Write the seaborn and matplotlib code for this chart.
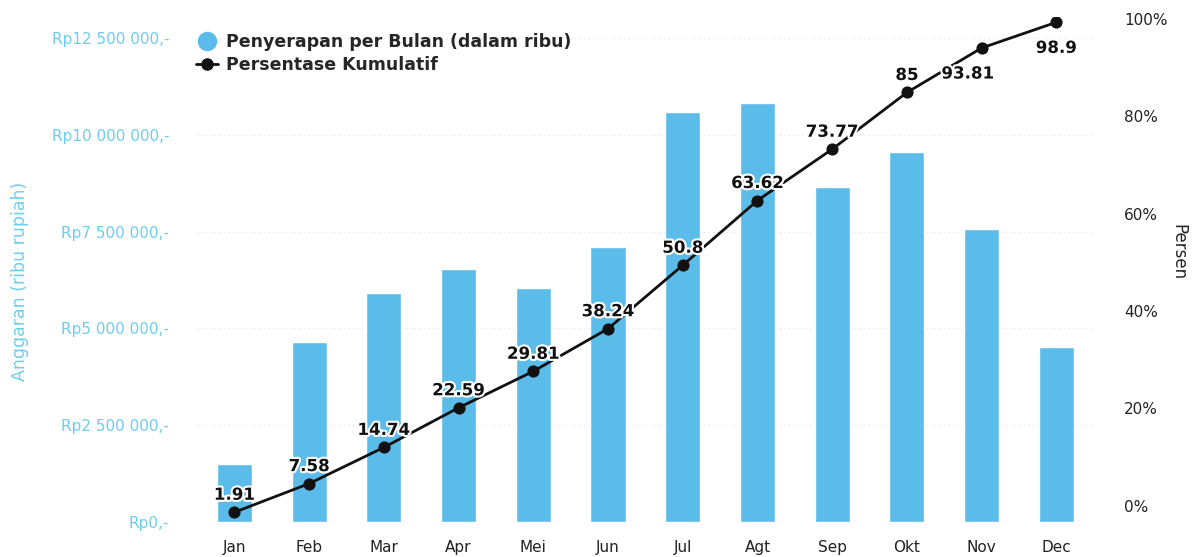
import seaborn as sns
import matplotlib.pyplot as plt
import matplotlib.patheffects as pe
import numpy as np
import pandas as pd
from matplotlib.lines import Line2D

bulan = ['Jan', 'Feb', 'Mar', 'Apr', 'Mei', 'Jun', 'Jul', 'Agt', 'Sep', 'Okt', 'Nov', 'Dec']
penyerapan = [1490000, 4650000, 5910000, 6530000, 6040000, 7100000,
              10600000, 10820000, 8640000, 9560000, 7560000, 4520000]
kumulatif = [1.91, 7.58, 14.74, 22.59, 29.81, 38.24, 50.8, 63.62, 73.77, 85, 93.81, 98.9]
label_bawah = ['Nov', 'Dec']

rp_ticks = [0, 2500000, 5000000, 7500000, 10000000, 12500000]
rp_labels = ['Rp0,-', 'Rp2 500 000,-', 'Rp5 000 000,-', 'Rp7 500 000,-',
             'Rp10 000 000,-', 'Rp12 500 000,-']
persen_labels = ['0%', '20%', '40%', '60%', '80%', '100%']

biru = '#5BBCEA'
biru_teks = '#6ECDEF'

sns.set_style('white')
plt.rcParams['font.family'] = ['DejaVu Sans']

df = pd.DataFrame({'bulan': bulan, 'penyerapan': penyerapan, 'kumulatif': kumulatif})

fig = plt.figure(figsize=(11.94, 5.57), dpi=100)
ax = fig.add_axes([0.165, 0.063, 0.751, 0.907])

sns.barplot(data=df, x='bulan', y='penyerapan', color=biru, width=0.47,
            saturation=1, ax=ax)
ax.set_ylim(0, 13050000)
ax.set_xlim(-0.5, 11.5)
ax.set_yticks(rp_ticks)
ax.set_yticklabels(rp_labels, color=biru_teks, fontsize=11)
ax.tick_params(axis='y', length=0, pad=20)
ax.tick_params(axis='x', length=0, pad=13, labelsize=11, labelcolor='#222222')
ax.yaxis.grid(True, color='#dddddd', linestyle=(0, (1, 3)), linewidth=0.8)
ax.set_axisbelow(True)
ax.set_xlabel('')
ax.set_ylabel('Anggaran (ribu rupiah)', color=biru_teks, fontsize=12.5)
ax.yaxis.set_label_coords(-0.187, 0.477)
for s in ax.spines.values():
    s.set_visible(False)

ax2 = ax.twinx()
x = np.arange(len(bulan))
sns.lineplot(x=x, y=kumulatif, color='#111111', linewidth=2, marker='o',
             markersize=8, markeredgecolor='#111111', ax=ax2)
ax2.set_ylim(0, 100)
# label persen di kanan sedikit bergeser dari skala garis
ax2.set_yticks(np.linspace(3.2, 99.6, 6))
ax2.set_yticklabels(persen_labels, fontsize=11, color='#222222')
ax2.tick_params(axis='y', length=0, pad=22)
ax2.set_ylabel('Persen', rotation=270, fontsize=12, color='#222222')
ax2.yaxis.set_label_coords(1.105, 0.535)
for s in ax2.spines.values():
    s.set_visible(False)

efek = [pe.withStroke(linewidth=3, foreground='white')]
for i, (b, v) in enumerate(zip(bulan, kumulatif)):
    if b in label_bawah:
        dx = -10 if b == 'Nov' else 0
        ax2.annotate(f'{v:g}', (i, v), xytext=(dx, -22), textcoords='offset points',
                     ha='center', fontsize=12, fontweight='bold', color='#111111',
                     path_effects=efek)
    else:
        ax2.annotate(f'{v:g}', (i, v), xytext=(0, 9), textcoords='offset points',
                     ha='center', fontsize=12, fontweight='bold', color='#111111',
                     path_effects=efek)

handles = [Line2D([], [], linestyle='none', marker='o', markersize=13, color=biru),
           Line2D([], [], color='#111111', linewidth=2, marker='o', markersize=8)]
ax.legend(handles, ['Penyerapan per Bulan (dalam ribu)', 'Persentase Kumulatif'],
          loc='upper left', bbox_to_anchor=(-0.019, 0.998), frameon=False,
          prop={'weight': 'bold', 'size': 12.5}, handlelength=1.3, handletextpad=0.45,
          labelspacing=0.25)

fig.savefig('out.png', dpi=100)
